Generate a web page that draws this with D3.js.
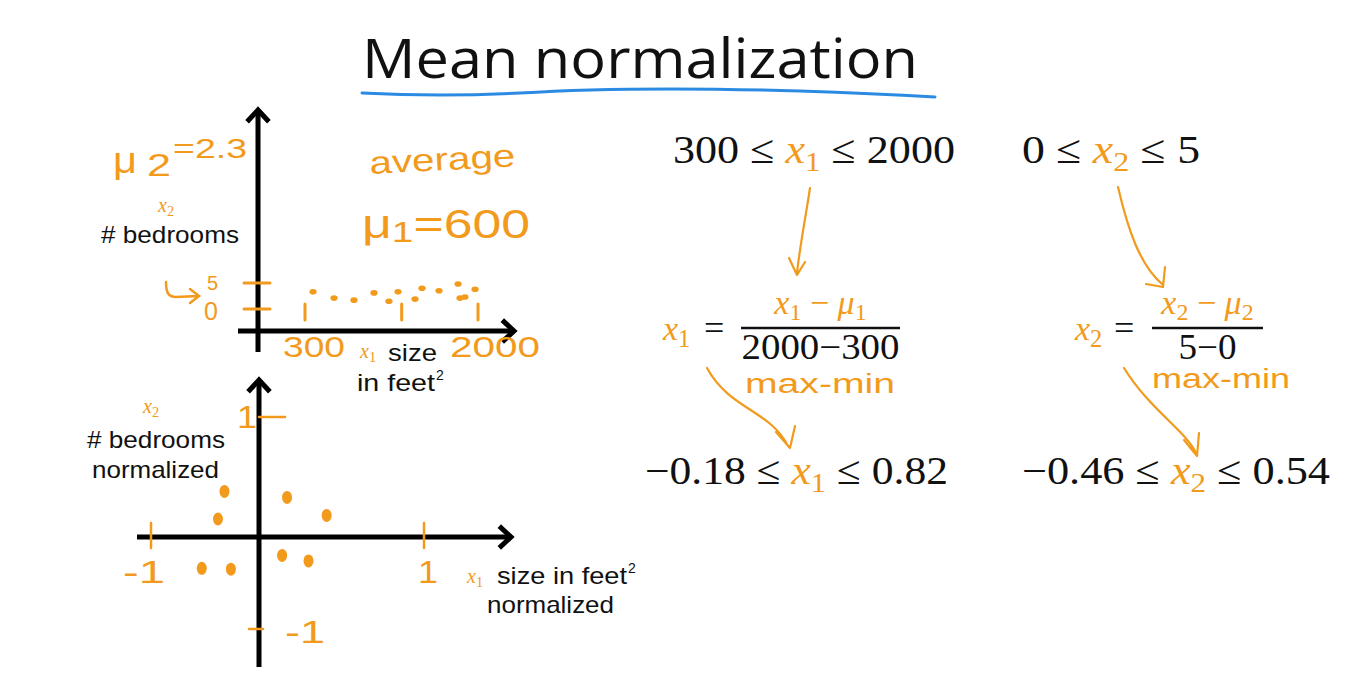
<!DOCTYPE html>
<html><head><meta charset="utf-8">
<script src="https://cdn.jsdelivr.net/npm/d3@7"></script>
<style>body{margin:0;background:#fff}svg{display:block}</style>
</head><body>
<svg id="c" width="1365" height="677"></svg>
<script>
// ---- data ----
const topSize = [379, 585, 781, 978, 1125, 1214, 1381, 1450, 1617, 1804, 1823, 1872, 1971];
const topBedrooms = [3.3, 2.1, 1.7, 3.1, 1.5, 3.3, 1.9, 4.0, 3.5, 4.8, 2.1, 2.3, 3.8];
const normSize = [-0.32, -0.38, 0.17, 0.41, -0.53, -0.26, 0.14, 0.30];
const normBedrooms = [0.38, 0.15, 0.33, 0.18, -0.34, -0.35, -0.20, -0.26];
const topXTicks = [300, 1250, 2000];
const topXTickLabels = ["300", "", "2000"];
const topYTicks = [0, 5];
const normXTicks = [-1, 1];
const normYTicks = [1, -1];

const ORANGE = "#f29a1c";
const svg = d3.select("#c");

// ---- title ----
svg.append("text").attr("x", 362).attr("y", 78).attr("font-family", "Open Sans")
  .attr("font-size", 54).attr("textLength", 556).attr("lengthAdjust", "spacingAndGlyphs")
  .attr("fill", "#111").text("Mean normalization");
svg.append("path").attr("d", "M362,93 C420,96 460,96 520,93 C600,88 700,88 800,91 C860,93 900,95 935,97")
  .attr("fill", "none").attr("stroke", "#2b8be3").attr("stroke-width", 3).attr("stroke-linecap", "round");

// ---- helpers ----
function arrowAxis(g, x1, y1, x2, y2) {
  g.append("line").attr("x1", x1).attr("y1", y1).attr("x2", x2).attr("y2", y2)
    .attr("stroke", "#000").attr("stroke-width", 5);
  const a = Math.atan2(y2 - y1, x2 - x1), L = 16, s = 0.75;
  g.append("path").attr("d", `M${x2 - L*Math.cos(a - s)},${y2 - L*Math.sin(a - s)} L${x2},${y2} L${x2 - L*Math.cos(a + s)},${y2 - L*Math.sin(a + s)}`)
    .attr("fill", "none").attr("stroke", "#000").attr("stroke-width", 5).attr("stroke-linejoin", "miter");
}
function txt(x, y, s, o) {
  o = o || {};
  const t = svg.append("text").attr("x", x).attr("y", y)
    .attr("font-family", o.font || "Liberation Sans").attr("font-size", o.size || 25)
    .attr("fill", o.fill || "#111").text(s);
  if (o.anchor) t.attr("text-anchor", o.anchor);
  if (o.italic) t.attr("font-style", "italic");
  if (o.len) t.attr("textLength", o.len).attr("lengthAdjust", "spacingAndGlyphs");
  if (o.rot) t.attr("transform", `rotate(${o.rot},${x},${y})`);
  return t;
}
function varX(x, y, sub, size) {
  const t = svg.append("text").attr("x", x).attr("y", y).attr("font-family", "Liberation Serif")
    .attr("font-size", size).attr("fill", ORANGE);
  t.append("tspan").attr("font-style", "italic").text("x");
  t.append("tspan").attr("font-size", size * 0.72).attr("dy", size * 0.22).text(sub);
  return t;
}

// ---- top chart ----
const xTop = d3.scaleLinear().domain([300, 2000]).range([305, 478]);
const yTop = d3.scaleLinear().domain([0, 5]).range([309, 283]);
const gTop = svg.append("g");
arrowAxis(gTop, 258, 352, 258, 110);
arrowAxis(gTop, 238, 331, 514, 331);
gTop.selectAll(".yt").data(topYTicks).join("line")
  .attr("x1", 244).attr("x2", 270).attr("y1", d => yTop(d)).attr("y2", d => yTop(d))
  .attr("stroke", ORANGE).attr("stroke-width", 3).attr("stroke-linecap", "round");
gTop.selectAll(".xt").data(topXTicks).join("line")
  .attr("x1", d => xTop(d)).attr("x2", d => xTop(d)).attr("y1", 304).attr("y2", 320)
  .attr("stroke", ORANGE).attr("stroke-width", 3).attr("stroke-linecap", "round");
gTop.selectAll(".pt").data(topSize).join("ellipse")
  .attr("cx", d => xTop(d)).attr("cy", (d, i) => yTop(topBedrooms[i]))
  .attr("rx", 3.6).attr("ry", 2.8).attr("fill", ORANGE);
topXTicks.forEach((v, i) => {
  if (topXTickLabels[i]) txt(xTop(v) + (i === 0 ? -22 : -28), 357, topXTickLabels[i],
    { fill: ORANGE, size: 30, font: "Liberation Sans", len: i === 0 ? 62 : 90 });
});
// y tick labels
txt(207, 290, String(topYTicks[1]), { fill: ORANGE, size: 20 });
txt(204, 320, String(topYTicks[0]), { fill: ORANGE, size: 25 });
svg.append("path").attr("d", "M166,282 C166,292 168,297 176,297 L198,296 M190,289 L199,296 L190,303")
  .attr("fill", "none").attr("stroke", ORANGE).attr("stroke-width", 2.5).attr("stroke-linecap", "round");

// top labels
txt(113, 173, "μ", { fill: ORANGE, size: 36, len: 24 });
txt(147, 176, "2", { fill: ORANGE, size: 32, len: 24 });
txt(173, 158, "=2.3", { fill: ORANGE, size: 28, len: 74 });
txt(370, 174, "average", { fill: ORANGE, size: 32, len: 146, rot: -3 });
{
  const t = svg.append("text").attr("x", 362).attr("y", 238).attr("font-family", "Liberation Sans")
    .attr("font-size", 40).attr("fill", ORANGE).attr("textLength", 168).attr("lengthAdjust", "spacingAndGlyphs");
  t.append("tspan").text("μ");
  t.append("tspan").attr("font-size", 30).attr("dy", 4).text("1");
  t.append("tspan").attr("dy", -4).text("=600");
}
varX(158, 212, "2", 20);
txt(101, 243, "# bedrooms", { size: 24, len: 138 });
varX(360, 358, "1", 20);
txt(388, 361, "size", { size: 24, len: 49 });
txt(357, 391, "in feet", { size: 24, len: 78 });
txt(436, 380, "2", { size: 14 });

// ---- bottom chart ----
const xN = d3.scaleLinear().domain([-1, 0, 1]).range([151, 259, 424]);
const yN = d3.scaleLinear().domain([-1, 0, 1]).range([629, 537, 417]);
const gB = svg.append("g");
arrowAxis(gB, 259, 667, 259, 380);
arrowAxis(gB, 137, 537, 511, 537);
gB.selectAll(".xt").data(normXTicks).join("line")
  .attr("x1", d => xN(d)).attr("x2", d => xN(d)).attr("y1", 523).attr("y2", 548)
  .attr("stroke", ORANGE).attr("stroke-width", 2.5).attr("stroke-linecap", "round");
gB.selectAll(".yt").data(normYTicks).join("line")
  .attr("x1", d => d > 0 ? 259 : 249).attr("x2", d => d > 0 ? 285 : 263)
  .attr("y1", d => yN(d)).attr("y2", d => yN(d))
  .attr("stroke", ORANGE).attr("stroke-width", 2.5).attr("stroke-linecap", "round");
gB.selectAll(".pt").data(normSize).join("ellipse")
  .attr("cx", d => xN(d)).attr("cy", (d, i) => yN(normBedrooms[i]))
  .attr("rx", 5).attr("ry", 6.5).attr("fill", ORANGE);
txt(xN(-1) - 28, 583, "-" + Math.abs(normXTicks[0]), { fill: ORANGE, size: 32, len: 42 });
txt(xN(1) - 6, 583, String(normXTicks[1]), { fill: ORANGE, size: 32, len: 20 });
txt(237, 428, String(normYTicks[0]), { fill: ORANGE, size: 32, len: 20 });
txt(285, 643, "-" + Math.abs(normYTicks[1]), { fill: ORANGE, size: 32, len: 40 });

varX(143, 413, "2", 20);
txt(87, 448, "# bedrooms", { size: 24, len: 138 });
txt(92, 478, "normalized", { size: 24, len: 127 });
varX(467, 583, "1", 20);
txt(497, 584, "size in feet", { size: 24, len: 130 });
txt(628, 573, "2", { size: 14 });
txt(487, 613, "normalized", { size: 24, len: 127 });

// ---- right side equations ----
const MF = "Liberation Serif";
function ineq(x, y, pre, sub, post, len) {
  const t = svg.append("text").attr("x", x).attr("y", y).attr("font-family", MF)
    .attr("font-size", 40).attr("fill", "#111").attr("textLength", len).attr("lengthAdjust", "spacingAndGlyphs");
  t.append("tspan").text(pre);
  t.append("tspan").attr("fill", ORANGE).attr("font-style", "italic").text("x");
  t.append("tspan").attr("fill", ORANGE).attr("font-size", 28).attr("dy", 8).text(sub);
  t.append("tspan").attr("dy", -8).text(post);
}
ineq(673, 163, "300 ≤ ", "1", " ≤ 2000", 282);
ineq(1022, 163, "0 ≤ ", "2", " ≤ 5", 178);
ineq(645, 484, "−0.18 ≤ ", "1", " ≤ 0.82", 303);
ineq(1022, 484, "−0.46 ≤ ", "2", " ≤ 0.54", 308);

function frac(xl, xr, sub, den, denLen) {
  const c = (xl + xr) / 2;
  svg.append("line").attr("x1", xl).attr("x2", xr).attr("y1", 328).attr("y2", 328)
    .attr("stroke", "#111").attr("stroke-width", 2.5);
  const n = svg.append("text").attr("x", c).attr("y", 314).attr("text-anchor", "middle")
    .attr("font-family", MF).attr("font-size", 34).attr("fill", ORANGE);
  n.append("tspan").attr("font-style", "italic").text("x");
  n.append("tspan").attr("font-size", 24).attr("dy", 6).text(sub);
  n.append("tspan").attr("dy", -6).text(" − ");
  n.append("tspan").attr("font-style", "italic").text("μ");
  n.append("tspan").attr("font-size", 24).attr("dy", 6).text(sub);
  svg.append("text").attr("x", c).attr("y", 359).attr("text-anchor", "middle")
    .attr("font-family", MF).attr("font-size", 35).attr("fill", "#111")
    .attr("textLength", denLen).attr("lengthAdjust", "spacingAndGlyphs").text(den);
}
varX(663, 340, "1", 34);
txt(704, 340, "=", { font: MF, size: 36 });
frac(741, 900, "1", "2000−300", 158);
varX(1075, 340, "2", 34);
txt(1114, 340, "=", { font: MF, size: 36 });
frac(1152, 1263, "2", "5−0", 58);

txt(745, 393, "max-min", { fill: ORANGE, size: 27, len: 150 });
txt(1152, 388, "max-min", { fill: ORANGE, size: 27, len: 138 });

// orange arrows
const arrows = [
  "M810,188 C806,215 800,245 797,273 M789,258 L797,275 L805,262",
  "M1118,187 C1128,230 1140,265 1162,284 M1146,284 L1163,287 L1165,267",
  "M707,368 C730,410 770,410 788,446 M776,432 L790,448 L795,426",
  "M1124,368 C1150,410 1185,430 1196,453 M1184,440 L1197,456 L1199,433"
];
svg.selectAll(".arr").data(arrows).join("path").attr("d", d => d)
  .attr("fill", "none").attr("stroke", ORANGE).attr("stroke-width", 2.2)
  .attr("stroke-linecap", "round").attr("stroke-linejoin", "round");
</script>
</body></html>
